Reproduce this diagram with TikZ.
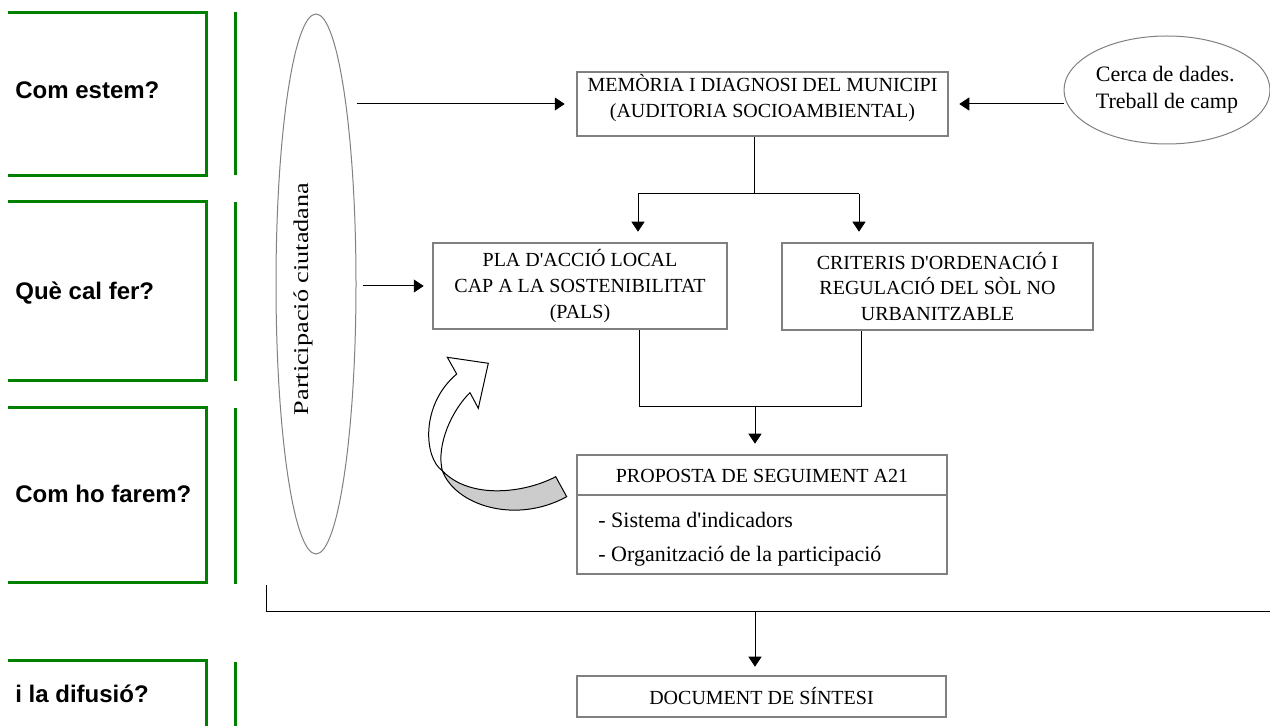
\documentclass[tikz,border=0pt]{standalone}
\usepackage{fontspec}
\setmainfont{Liberation Serif}
\newfontfamily\lsans{Liberation Sans}
\usetikzlibrary{arrows.meta,shapes.geometric,calc}
\definecolor{grn}{HTML}{008000}
\definecolor{boxgray}{HTML}{808080}
\newcommand\ap{\textquotesingle}
\begin{document}
\begin{tikzpicture}[x=0.5pt,y=-0.5pt,
  box/.style={draw=boxgray, line width=1.25pt, inner sep=0pt, align=center, font=\fontsize{10}{12.9}\selectfont},
  boxtxt/.style={inner sep=0pt, align=center, font=\fontsize{10}{12.9}\selectfont},
  itemtxt/.style={inner sep=0pt, anchor=base west, font=\fontsize{11}{13}\selectfont},
  lbl/.style={font=\lsans\bfseries\fontsize{12}{14}\selectfont, anchor=base west, inner sep=0pt},
  grline/.style={draw=grn, line width=1.5pt},
  conn/.style={line width=0.5pt},
  arr/.style={conn, -{Triangle[length=5pt,width=6.5pt]}},
  oval/.style={ellipse, draw=gray, line width=0.5pt, inner sep=0pt}
]
\useasboundingbox (0,0) rectangle (1270,726);

% green brackets
\draw[grline] (8,13) -- (206,13) -- (206,176) -- (8,176);
\draw[grline] (235.5,12) -- (235.5,175);
\draw[grline] (8,202) -- (206,202) -- (206,381) -- (8,381);
\draw[grline] (235.5,202) -- (235.5,381);
\draw[grline] (8,408) -- (206,408) -- (206,583) -- (8,583);
\draw[grline] (235.5,408) -- (235.5,584);
\draw[grline] (8,661) -- (206,661) -- (206,730);
\draw[grline] (235.5,662) -- (235.5,730);

% left labels
\node[lbl] (l1) at (15,99) {Com estem?};
\node[lbl] (l2) at (15,300) {Què cal fer?};
\node[lbl] (l3) at (15,503) {Com ho farem?};
\node[lbl] (l4) at (15,703) {i la difusió?};

% participation ellipse
\node[oval, minimum width=40pt, minimum height=270pt] (part) at (316,284) {};
\node[rotate=90, inner sep=0pt, font=\fontsize{10.5}{12}\selectfont] (partt) at (303,299) {\scalebox{1.25}[1]{Participació ciutadana}};

% data ellipse
\node[oval, minimum width=103pt, minimum height=54pt, align=left, font=\fontsize{11}{13.6}\selectfont] (cerca) at (1167,90) {Cerca de dades.\\Treball de camp};

% boxes
\node[box, minimum width=185.5pt, minimum height=32pt] (mem) at (762.5,104) {};
\node[boxtxt] (memt) at (762.5,98) {MEMÒRIA I DIAGNOSI DEL MUNICIPI\\(AUDITORIA SOCIOAMBIENTAL)};

\node[box, minimum width=147pt, minimum height=43pt] (pla) at (580,286) {PLA D\ap{}ACCIÓ LOCAL\\CAP A LA SOSTENIBILITAT\\(PALS)};
\node[box, minimum width=155.5pt, minimum height=43.5pt] (crit) at (937.5,286.5) {CRITERIS D\ap{}ORDENACIÓ I\\REGULACIÓ DEL SÒL NO\\URBANITZABLE};

\node[box, minimum width=185pt, minimum height=59.5pt] (prop) at (762,514.5) {};
\draw[draw=boxgray, line width=1pt] (prop.west |- 0,495) -- (prop.east |- 0,495);
\node[boxtxt] (propt) at (762,475.5) {PROPOSTA DE SEGUIMENT A21};
\node[itemtxt] (i1) at (598,527.5) {- Sistema d\ap{}indicadors};
\node[itemtxt] (i2) at (598,562) {- Organització de la participació};

\node[box, minimum width=184.5pt, minimum height=20.5pt] (doc) at (761.5,696.5) {DOCUMENT DE SÍNTESI};

% connectors
\draw[arr, shorten >=5.5pt] (part.east |- mem.west) -- (mem.west);
\draw[arr, shorten >=4pt, shorten <=3pt] (part.east |- pla.west) -- (pla.west);
\draw[arr, shorten >=5pt] (cerca.west |- mem.east) -- (mem.east);

\coordinate (jl) at (638,194);
\coordinate (jr) at (859,194);
\coordinate (jt) at (754,194);
\draw[conn] (jt |- mem.south) -- (jt);
\draw[conn] (jl) -- (jr);
\draw[arr, shorten >=5pt] (jl) -- (jl |- pla.north);
\draw[arr, shorten >=5pt] (jr) -- (jr |- crit.north);

\coordinate (bl) at (639,407);
\coordinate (br) at (861,407);
\coordinate (bm) at (755,407);
\draw[conn] (bl |- pla.south) -- (bl) -- (br) -- (br |- crit.south);
\draw[arr, shorten >=5pt] (bm) -- (bm |- prop.north);

\coordinate (tl) at (266.5,585);
\coordinate (hl) at (266.5,612);
\coordinate (hr) at (1270,612);
\coordinate (hm) at (755,612);
\draw[conn] (tl) -- (hl) -- (hr);
\draw[arr, shorten >=4pt] (hm) -- (hm |- doc.north);

% curved block arrow
\filldraw[fill=white, line width=0.5pt] (456.7,374) -- (447.3,357.3) -- (488.3,363.3) -- (478.3,408.3) -- (470,392.7)
  .. controls (452,410) and (436,445) .. (442.3,470.7)
  .. controls (424,458) and (420,405) .. (456.7,374) -- cycle;
\filldraw[fill=gray!40, line width=0.5pt] (442.3,470.7)
  .. controls (455,505) and (515,525) .. (566.7,496.7) -- (555.7,476.7)
  .. controls (525,493) and (470,500) .. (442.3,470.7) -- cycle;
\end{tikzpicture}
\end{document}
